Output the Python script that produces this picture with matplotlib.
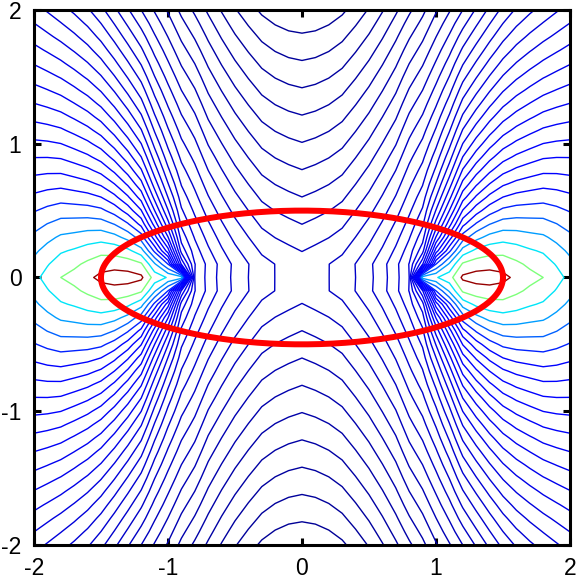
import numpy as np
import matplotlib
matplotlib.use("Agg")
import matplotlib.pyplot as plt
from matplotlib import cm

# level index where the lines cross the top edge (|x| from 0 to 2)
u_top = [0.00, 0.10, 0.20, 0.30, 0.34, 0.49, 0.61, 0.72, 0.82, 0.93, 1.01,
         1.11, 1.20, 1.29, 1.38, 1.47, 1.58, 1.73, 1.92, 2.00]
lev_top = [0.15, 0.22, 0.44, 0.81, 1, 2, 3, 4, 5, 6, 7, 8, 9, 10, 11, 12,
           13, 14, 15, 15.4]

# level index along the x axis, without the jump at the pinch point
u_axis = [0.00, 0.25, 0.40, 0.54, 0.64, 0.73, 0.80, 0.875, 1.04, 1.14, 1.20,
          1.35, 1.53, 1.65, 1.80, 1.96, 2.00]
lev_axis = [9.95, 10, 11, 12, 13, 14, 15, 15.6, 16.0, 17.0, 18.2,
            18.5, 18.2, 17.5, 17.0, 16.0, 15.7]

# the y = 0 row sits a little below its neighbours between the pinch points
u_groove = [0.00, 0.20, 0.80, 0.875]
groove = [0.0, 0.5, 0.6, 0.0]

pinch_x = 0.875      # where the lines meet
jump = 13.0          # levels gained going round the pinch point
ang_lo = 80.0        # angle (deg) where the jump starts
soft = 0.1           # rounding of the start of the jump

levels = np.arange(1, 32)
# jet position of each level: blues, then the loops round the ends
jet_pos = list(np.linspace(0.02, 0.125, 25)) + [0.16, 0.22, 0.28, 0.35, 0.50, 0.98]

ell_a, ell_b = 1.5, 0.5

# field on a coarse grid, like the original
xs = np.linspace(-2, 2, 41)
ys = np.linspace(-2, 2, 41)
X, Y = np.meshgrid(xs, ys)
u = np.abs(X)
v = np.abs(Y)


def pinch(u, v):
    theta = np.degrees(np.arctan2(v, pinch_x - u))
    sr = np.clip((theta - ang_lo) / (180.0 - ang_lo), 0, 1)
    s = np.where(sr < 2 * soft, sr ** 2 / (4 * soft), sr - soft) / (1 - soft)
    return jump * (1 - (1 - s) ** 2)


top = np.interp(u, u_top, lev_top)
dip = np.interp(u, u_groove, groove, right=0.0)
axis_ = np.interp(u, u_axis, lev_axis) + dip
Z = axis_ + (top - pinch(u, 2.0) - axis_) * v / 2 + pinch(u, v)
row = np.isclose(Y, 0.0)
Z[row] -= dip[row]

cols = [cm.jet(p) for p in jet_pos]

fig = plt.figure(figsize=(5.78, 5.86), dpi=100)
ax = fig.add_axes([0.0588, 0.070, 0.9273, 0.913])
ax.contour(X, Y, Z, levels=levels, colors=cols, linewidths=1.0)

t = np.linspace(0, 2 * np.pi, 400)
ax.plot(ell_a * np.cos(t), ell_b * np.sin(t), color='red', lw=4.3)

ax.set_xlim(-2, 2)
ax.set_ylim(-2, 2)
ticks = [-2, -1, 0, 1, 2]
ax.set_xticks(ticks)
ax.set_yticks(ticks)
ax.set_xticklabels([str(k) for k in ticks], fontsize=16.5, family='Liberation Sans')
ax.set_yticklabels([str(k) for k in ticks], fontsize=16.5, family='Liberation Sans')
ax.tick_params(direction='in', length=5, width=2.2, top=True, right=True, pad=9)
for s in ax.spines.values():
    s.set_linewidth(2.2)

fig.savefig('out.png', dpi=100)
